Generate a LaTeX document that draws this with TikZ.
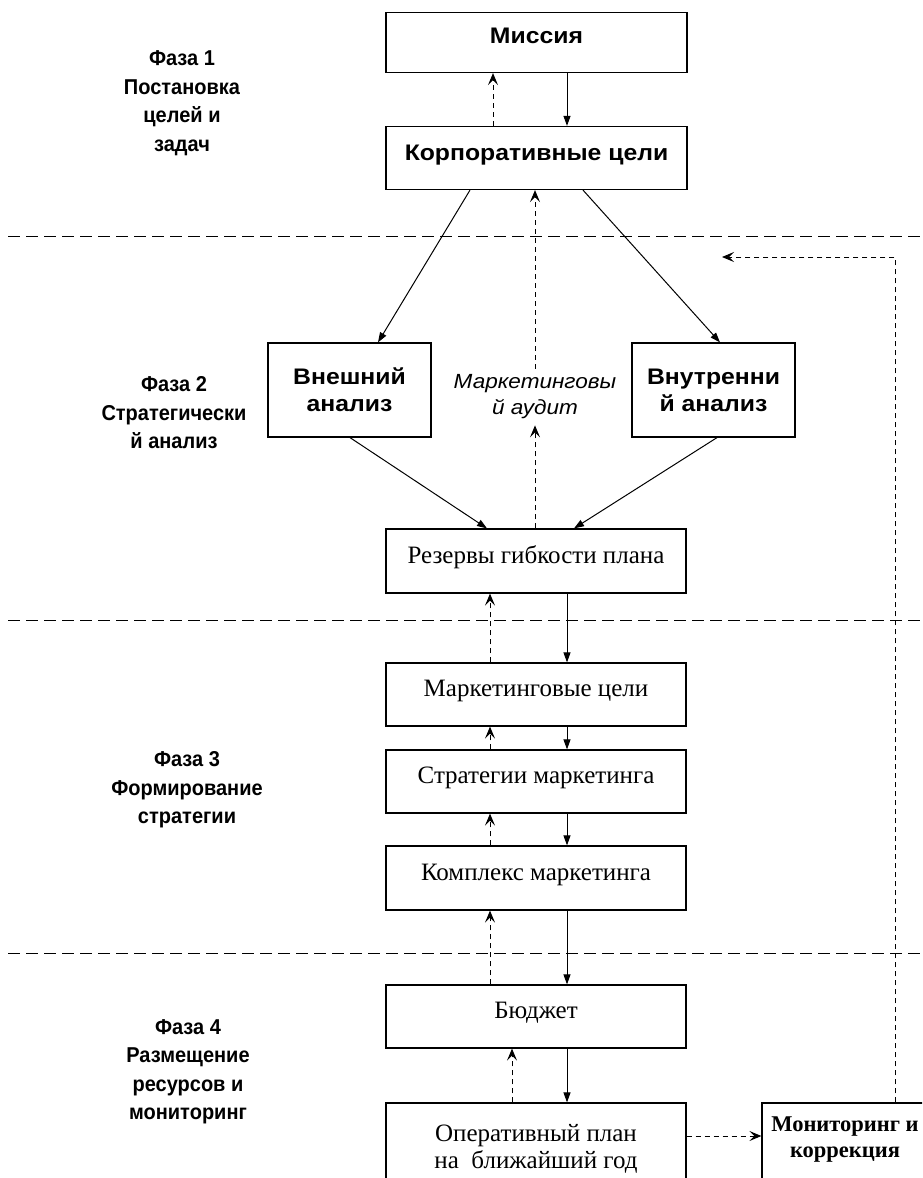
\documentclass[tikz,border=0pt]{standalone}
\usepackage{fontspec}
\setmainfont{Liberation Serif}
\newfontfamily\sansf[FakeStretch=1.1]{Liberation Sans}
\newfontfamily\sansnarrow[FakeStretch=0.93]{Liberation Sans}
\usetikzlibrary{arrows.meta}

\tikzset{
  box/.style={draw, line width=1.2pt, inner sep=0pt, align=center},
  sansbox/.style={box, font=\sansf\bfseries\fontsize{22.5}{27}\selectfont},
  serifbox/.style={box, font=\fontsize{25}{27}\selectfont},
  phase/.style={font=\sansnarrow\bfseries\fontsize{21.5}{28.5}\selectfont, align=center},
  flow/.style={line width=1pt, -{Triangle[length=10pt, width=7pt]}},
  back/.style={line width=1pt, dash pattern=on 5pt off 4pt, -{Stealth[length=12pt, width=10pt, inset=5pt]}},
  divider/.style={line width=1pt, dash pattern=on 12pt off 6pt}
}

\begin{document}
\begin{tikzpicture}[x=1pt, y=-1pt]
\useasboundingbox (0,0) rectangle (922,1178);
\clip (0,0) rectangle (922,1178);

% phase dividers
\draw[divider] (8,236) -- (922,236);
\draw[divider] (8,620) -- (922,620);
\draw[divider] (8,953) -- (922,953);

% phase captions
\node[phase] (ph1) at (182,103) {Фаза 1\\Постановка\\целей и\\задач};
\node[phase] (ph2) at (174,413) {Фаза 2\\Стратегически\\й анализ};
\node[phase] (ph3) at (187,790) {Фаза 3\\Формирование\\стратегии};
\node[phase] (ph4) at (188,1072) {Фаза 4\\Размещение\\ресурсов и\\мониторинг};

% boxes
\node[sansbox, minimum width=301pt, minimum height=60pt, text depth=14pt] (mission) at (536.5,42.5) {Миссия};
\node[sansbox, minimum width=301pt, minimum height=63pt, text depth=10pt] (corp) at (536.5,158) {Корпоративные цели};
\node[sansbox, minimum width=163pt, minimum height=94pt] (ext) at (349.5,390) {Внешний\\анализ};
\node[sansbox, minimum width=163pt, minimum height=94pt] (int) at (713.5,390) {Внутренни\\й анализ};
\node[font=\sansf\itshape\fontsize{20.5}{26}\selectfont, align=center, inner sep=6pt] (audit) at (535,397) {Маркетинговы\\й аудит};
\node[serifbox, minimum width=300pt, minimum height=64pt, text depth=12pt] (res) at (536,561) {Резервы гибкости плана};
\node[serifbox, minimum width=300pt, minimum height=63pt, text depth=12pt] (mg) at (536,694.5) {Маркетинговые цели};
\node[serifbox, minimum width=300pt, minimum height=63pt, text depth=12pt] (strat) at (536,781.5) {Стратегии маркетинга};
\node[serifbox, minimum width=300pt, minimum height=64pt, text depth=12pt] (mix) at (536,878) {Комплекс маркетинга};
\node[serifbox, minimum width=300pt, minimum height=63pt, text depth=12pt] (budget) at (536,1016.5) {Бюджет};
\node[serifbox, minimum width=300pt, minimum height=94pt, text depth=8pt] (oper) at (536,1150) {Оперативный план\\на\ \ ближайший год};
\node[box, font=\bfseries\fontsize{22.5}{26}\selectfont, minimum width=166pt, minimum height=94pt, text depth=25pt] (mon) at (845,1150) {Мониторинг и\\коррекция};

% top-down flow
\draw[flow] (mission.south -| 567,0) -- (corp.north -| 567,0);
\draw[flow] (corp.south -| 470,0) -- (ext.north -| 378,0);
\draw[flow] (corp.south -| 583,0) -- (int.north -| 720,0);
\draw[flow] (ext.south -| 350,0) -- (res.north -| 487,0);
\draw[flow] (int.south -| 717,0) -- (res.north -| 574,0);
\draw[flow] (res.south -| 567,0) -- (mg.north -| 567,0);
\draw[flow] (mg.south -| 567,0) -- (strat.north -| 567,0);
\draw[flow] (strat.south -| 567,0) -- (mix.north -| 567,0);
\draw[flow] (mix.south -| 567,0) -- (budget.north -| 567,0);
\draw[flow] (budget.south -| 567,0) -- (oper.north -| 567,0);

% feedback links
\draw[back] (corp.north -| 493,0) -- (mission.south -| 493,0);
\draw[back] (res.north -| audit.south) -- (audit.south);
\draw[back] (audit.north) -- (corp.south -| audit.north);
\draw[back] (mg.north -| 490,0) -- (res.south -| 490,0);
\draw[back] (strat.north -| 490,0) -- (mg.south -| 490,0);
\draw[back] (mix.north -| 490,0) -- (strat.south -| 490,0);
\draw[back] (budget.north -| 490,0) -- (mix.south -| 490,0);
\draw[back] (oper.north -| 512,0) -- (budget.south -| 512,0);
\draw[back] (oper.east |- 0,1136) -- (mon.west |- 0,1136);
\coordinate (ret) at (722,257);
\draw[back] (mon.north -| 895,0) -- (895,257) -- (ret);
\end{tikzpicture}
\end{document}
